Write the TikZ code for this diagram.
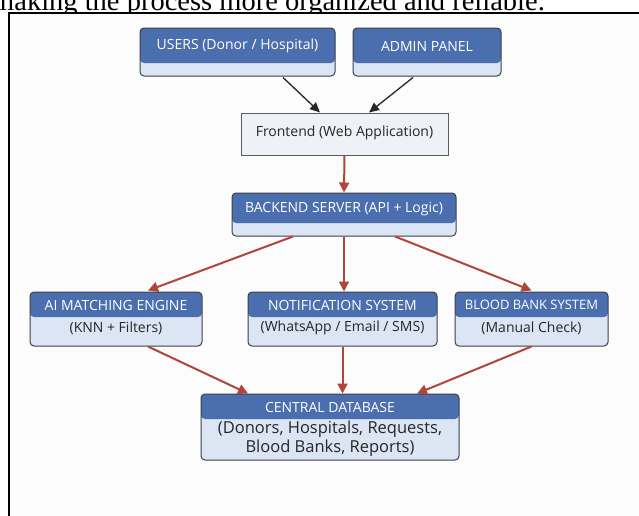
\documentclass[tikz,border=0pt]{standalone}
\usepackage{fontspec}
\setmainfont{Open Sans}
\newfontfamily\docserif{Liberation Serif}
\usetikzlibrary{arrows.meta,calc}
\definecolor{headblue}{HTML}{4B6EAE}
\definecolor{lightblue}{HTML}{DCE5F3}
\definecolor{boxedge}{HTML}{3C4048}
\definecolor{frontfill}{HTML}{EEF1F6}
\definecolor{redarrow}{HTML}{B0453C}
\definecolor{pagebg}{HTML}{FCFCFC}
\tikzset{
  twobox/.style={draw=boxedge, line width=1pt, rounded corners=4pt, fill=lightblue,
    inner sep=0pt,
    path picture={\fill[headblue] (path picture bounding box.north west) rectangle ([yshift=-#1pt]path picture bounding box.north east);}},
  plainbox/.style={draw=boxedge!85, line width=1pt, fill=frontfill, inner sep=0pt},
  headtxt/.style={text=white, font=\fontsize{14}{16}\selectfont, inner sep=0pt},
  bodytxt/.style={text=black!85, font=\fontsize{14}{16}\selectfont, inner sep=0pt, align=center},
  blkarrow/.style={draw=black!85, line width=1.3pt, -{Triangle[length=10pt,width=9pt]}},
  redarr/.style={draw=redarrow, line width=2pt, -{Triangle[length=10pt,width=10pt]}},
}
\begin{document}
\begin{tikzpicture}[x=1pt,y=-1pt]
\useasboundingbox (0,0) rectangle (639,515);
\clip (0,0) rectangle (639,515);
\fill[white] (0,0) rectangle (639,515);
\node[anchor=base west, inner sep=0pt, font=\docserif\fontsize{28.5}{30}\selectfont] (toptext) at (-8,10) {making the process more organized and reliable.};
\fill[pagebg] (9,13) rectangle (650,530);
\draw[line width=2.6pt] (9,530) -- (9,13) -- (650,13);

% boxes
\node[twobox=35, minimum width=195pt, minimum height=48pt] (users) at (237.5,52) {};
\node[headtxt] (usersT) at (237.5,46) {USERS (Donor / Hospital)};
\node[twobox=35, minimum width=148pt, minimum height=48pt] (admin) at (427,52) {};
\node[headtxt] (adminT) at (427,46) {ADMIN PANEL};

\node[plainbox, minimum width=207pt, minimum height=42pt] (frontend) at (344.5,134) {};
\node[bodytxt] (frontT) at (344.5,133) {Frontend (Web Application)};

\node[twobox=30, minimum width=224pt, minimum height=43pt] (backend) at (344,214.5) {};
\node[headtxt] (backT) at (344,209) {BACKEND SERVER (API + Logic)};

\node[twobox=25, minimum width=172pt, minimum height=54pt] (ai) at (116,319) {};
\node[headtxt] (aiT) at (116,305) {AI MATCHING ENGINE};
\node[bodytxt] (aiB) at (116,328) {(KNN + Filters)};

\node[twobox=25, minimum width=189pt, minimum height=54pt] (notif) at (342.5,319) {};
\node[headtxt] (notifT) at (342.5,305) {NOTIFICATION SYSTEM};
\node[bodytxt] (notifB) at (342.5,328) {(WhatsApp / Email / SMS)};

\node[twobox=25, minimum width=153pt, minimum height=54pt] (blood) at (531.5,319) {};
\node[headtxt, font=\fontsize{13}{15}\selectfont] (bloodT) at (531.5,305) {BLOOD BANK SYSTEM};
\node[bodytxt] (bloodB) at (531.5,328) {(Manual Check)};

\node[twobox=25, minimum width=258pt, minimum height=66pt] (db) at (330,427) {};
\node[headtxt] (dbT) at (330,407) {CENTRAL DATABASE};
\node[bodytxt, font=\fontsize{16.5}{18.5}\selectfont] (dbB) at (330,438.5) {(Donors, Hospitals, Requests,\\Blood Banks, Reports)};

% connectors
\draw[blkarrow] ([xshift=45.5pt,yshift=-1pt]users.south) -- ([xshift=-24.5pt]frontend.north);
\draw[blkarrow] ([xshift=-14pt,yshift=-1pt]admin.south) -- ([xshift=24.5pt]frontend.north);
\draw[redarr] (frontend.south) -- (backend.north);
\draw[redarr] ([xshift=-51pt]backend.south) -- ([xshift=32pt,yshift=1pt]ai.north);
\draw[redarr] (backend.south) -- (backend.south |- notif.north);
\draw[redarr] ([xshift=51pt]backend.south) -- ([yshift=1pt]blood.north);
\draw[redarr] ([xshift=32pt]ai.south) -- ([xshift=-82pt]db.north);
\draw[redarr] (notif.south) -- (notif.south |- db.north);
\draw[redarr] (blood.south) -- ([xshift=87pt]db.north);
\end{tikzpicture}
\end{document}
